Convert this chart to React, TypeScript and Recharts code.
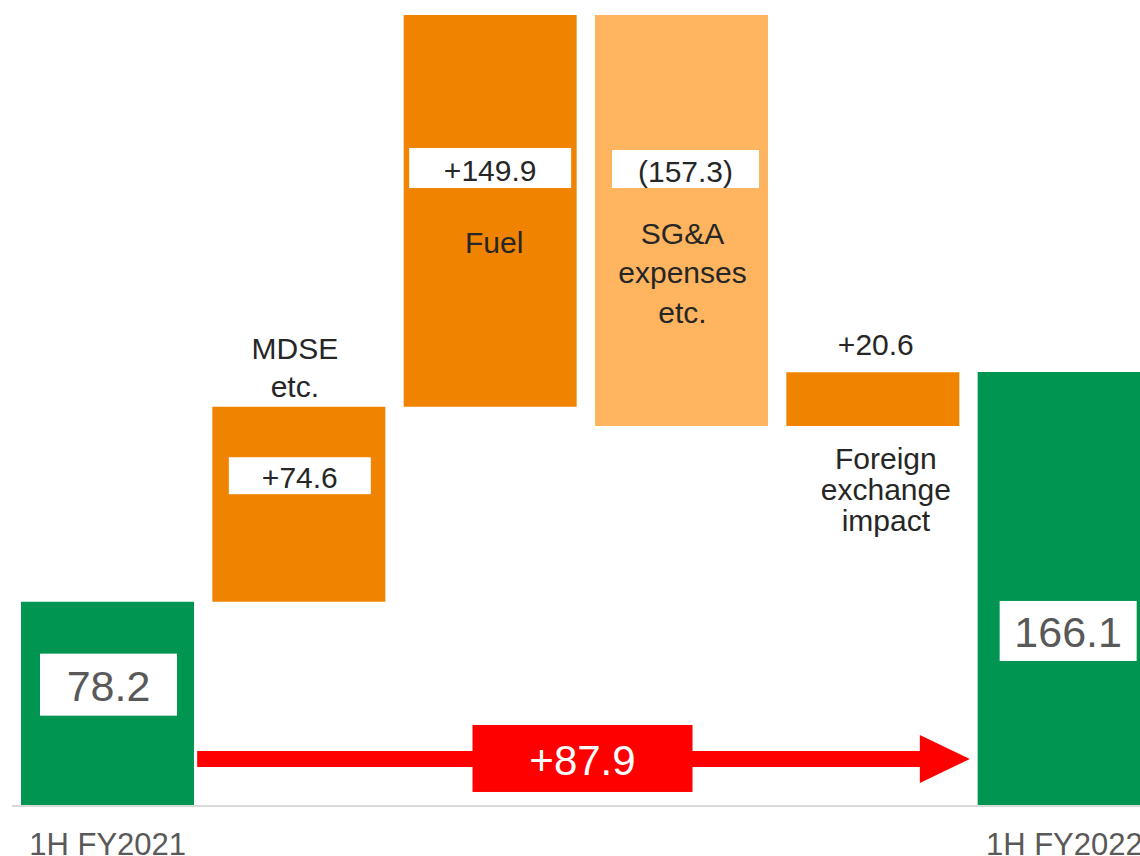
import React from "react";
import { BarChart, Bar, XAxis, YAxis, Cell, LabelList, ReferenceLine } from "recharts";

// waterfall: 1H FY2021 -> 1H FY2022
const categories = ["1H FY2021", "MDSE etc.", "Fuel", "SG&A expenses etc.", "Foreign exchange impact", "1H FY2022"];
const tickLabels = ["1H FY2021", "", "", "", "", "1H FY2022"];
const startValue = 78.2;
const changes = [74.6, 149.9, -157.3, 20.6];
const endValue = 166.1;
const valueLabels = ["78.2", "+74.6", "+149.9", "(157.3)", "+20.6", "166.1"];
const descLines = [[], ["MDSE", "etc."], ["Fuel"], ["SG&A", "expenses", "etc."], ["Foreign", "exchange", "impact"], []];
const totalChangeLabel = "+87.9";

const GREEN = "#009651";
const ORANGE = "#F08300";
const LIGHT_ORANGE = "#FFB55F";
const DARK = "#262626";
const GRAY = "#595959";
const FONT = "'Liberation Sans', Arial, sans-serif";
const BAR_SIZE = 173;
const ARROW_LEVEL = 18;

let running = startValue;
const rows = categories.map((name, i) => {
  if (i === 0) return { name, base: 0, value: startValue, kind: "total" };
  if (i === categories.length - 1) return { name, base: 0, value: endValue, kind: "total" };
  const d = changes[i - 1];
  const base = d >= 0 ? running : running + d;
  running += d;
  return { name, base, value: Math.abs(d), kind: d >= 0 ? "up" : "down" };
});

const fillFor = (kind: string) => (kind === "total" ? GREEN : kind === "up" ? ORANGE : LIGHT_ORANGE);

// label placement relative to each bar (pixels)
const labelLayout: any[] = [
  { box: { w: 137, h: 62, dy: 83, dx: 1 }, size: 43, color: GRAY },
  { box: { w: 142, h: 37, dy: 69, dx: 1 }, size: 30, color: DARK, desc: { from: "top", offsets: [-58, -20], dx: -4 } },
  { box: { w: 162, h: 40, dy: 153, dx: 0 }, size: 30, color: DARK, desc: { from: "top", offsets: [227], dx: 4 } },
  { box: { w: 147, h: 38, dy: 154, dx: 4 }, size: 30, color: DARK, desc: { from: "top", offsets: [218, 257, 297], dx: 1 } },
  { above: -28, aboveDx: 3, size: 30, color: DARK, desc: { from: "bottom", offsets: [32, 63, 94], dx: 13 } },
  { box: { w: 137, h: 60, dy: 259, dx: 4 }, size: 43, color: GRAY },
];

const renderBarLabel = (props: any) => {
  const vb = props.viewBox || props;
  const x = Number(vb.x);
  const w = Number(vb.width);
  const h = Number(vb.height);
  const top = h >= 0 ? Number(vb.y) : Number(vb.y) + h;
  const bottom = top + Math.abs(h);
  const cx = x + w / 2;
  const i = props.index;
  const cfg = labelLayout[i];
  if (!cfg) return null;
  const parts: any[] = [];
  if (cfg.box) {
    const bx = cx + cfg.box.dx;
    const by = top + cfg.box.dy;
    parts.push(
      <rect key="box" x={bx - cfg.box.w / 2} y={by - cfg.box.h / 2} width={cfg.box.w} height={cfg.box.h} fill="#fff" />
    );
    parts.push(
      <text key="val" x={bx} y={by + (cfg.size > 35 ? 1 : 2) + 0.358 * cfg.size} textAnchor="middle"
        fontSize={cfg.size} fill={cfg.color} fontFamily={FONT}>
        {valueLabels[i]}
      </text>
    );
  } else if (cfg.above !== undefined) {
    parts.push(
      <text key="val" x={cx + cfg.aboveDx} y={top + cfg.above + 0.358 * cfg.size} textAnchor="middle"
        fontSize={cfg.size} fill={cfg.color} fontFamily={FONT}>
        {valueLabels[i]}
      </text>
    );
  }
  if (cfg.desc) {
    const ref = cfg.desc.from === "top" ? top : bottom;
    descLines[i].forEach((line, k) => {
      parts.push(
        <text key={`d${k}`} x={cx + cfg.desc.dx} y={ref + cfg.desc.offsets[k] + 0.358 * 30} textAnchor="middle"
          fontSize={30} fill={DARK} fontFamily={FONT}>
          {line}
        </text>
      );
    });
  }
  return <g>{parts}</g>;
};

const renderArrow = (props: any) => {
  const half = BAR_SIZE / 2;
  const x1 = props.x1 + half + 3;
  const x2 = props.x2 - half - 8;
  const y = props.y1;
  const shaft = 8;
  const head = 24;
  const headLen = 50;
  const mid = (x1 + x2) / 2;
  return (
    <g>
      <polygon
        fill="#FF0000"
        points={`${x1},${y - shaft} ${x2 - headLen},${y - shaft} ${x2 - headLen},${y - head} ${x2},${y} ${x2 - headLen},${y + head} ${x2 - headLen},${y + shaft} ${x1},${y + shaft}`}
      />
      <rect x={mid - 111} y={y - 34} width={220} height={67} fill="#FF0000" />
      <text x={mid - 1} y={y + 1 + 0.358 * 42} textAnchor="middle" fontSize={42} fill="#fff" fontFamily={FONT}>
        {totalChangeLabel}
      </text>
    </g>
  );
};

export default function App() {
  return (
    <div style={{ position: "absolute", left: 0, top: 0, width: 1140, height: 856, overflow: "hidden", background: "#fff" }}>
      <BarChart
        width={1160}
        height={856}
        data={rows}
        margin={{ top: 9, right: 0, left: 12, bottom: 0 }}
        barSize={BAR_SIZE}
      >
        <XAxis
          dataKey="name"
          interval={0}
          height={50}
          tickLine={false}
          tickSize={0}
          tickMargin={27}
          axisLine={{ stroke: "#d9d9d9", strokeWidth: 2 }}
          tickFormatter={(_v: any, i: number) => tickLabels[i]}
          tick={{ fill: GRAY, fontSize: 31, fontFamily: FONT }}
        />
        <YAxis hide width={0} domain={[0, 305]} />
        <Bar dataKey="base" stackId="w" fill="transparent" isAnimationActive={false} />
        <Bar dataKey="value" stackId="w" isAnimationActive={false}>
          {rows.map((r, i) => (
            <Cell key={`c-${i}`} fill={fillFor(r.kind)} />
          ))}
          <LabelList dataKey="value" content={renderBarLabel} />
        </Bar>
        <ReferenceLine
          segment={[
            { x: categories[0], y: ARROW_LEVEL },
            { x: categories[categories.length - 1], y: ARROW_LEVEL },
          ]}
          ifOverflow="visible"
          shape={renderArrow}
        />
      </BarChart>
    </div>
  );
}
